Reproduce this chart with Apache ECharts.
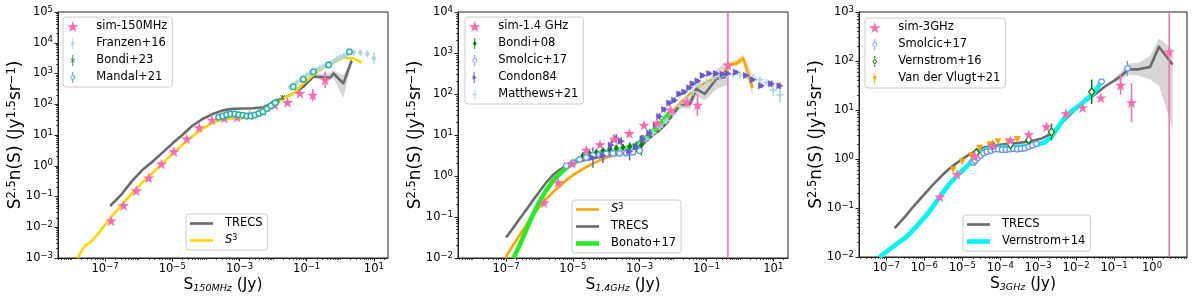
<!DOCTYPE html>
<html><head><meta charset="utf-8">
<script src="https://cdn.jsdelivr.net/npm/echarts@6/dist/echarts.min.js"></script>
<style>html,body{margin:0;padding:0;background:#fff}#c{width:1200px;height:300px}</style>
</head><body><div id="c"></div>
<script>
// All values are log10 readings from the figure (lgS = log10 flux [Jy], lgN = log10 S^2.5 n(S)).
// ---------------- Panel 1 : 150 MHz ----------------
const p1_sim_lgS = [-6.82,-6.45,-6.07,-5.70,-5.32,-4.95,-4.57,-4.20,-3.82,-3.45,-3.07,-2.70,-2.32,-1.95,-1.57,-1.20,-0.82,-0.45];
const p1_sim_lgN = [-1.79,-1.29,-0.81,-0.39,0.06,0.46,0.88,1.24,1.49,1.55,1.58,1.65,1.79,1.98,2.06,2.36,2.30,2.79];
const p1_sim_err = [0.04,0.04,0.04,0.04,0.04,0.04,0.04,0.04,0.04,0.04,0.04,0.04,0.05,0.05,0.06,0.08,0.2,0.27];
const p1_trecs_lgS = [-6.85,-6.5,-6.2,-5.9,-5.6,-5.3,-5.0,-4.7,-4.4,-4.1,-3.8,-3.5,-3.2,-2.9,-2.6,-2.3,-2.0,-1.7,-1.4,-1.1,-0.8,-0.5,-0.3,-0.2,0.09,0.34];
const p1_trecs_lgN = [-1.31,-0.92,-0.5,-0.15,0.12,0.42,0.72,1.0,1.3,1.52,1.68,1.8,1.85,1.86,1.87,1.9,2.05,2.2,2.35,2.57,2.9,2.88,2.87,3.0,2.68,3.42];
const p1_band_lgS = [-0.8,-0.5,-0.35,-0.2,0.09,0.34];
const p1_band_lo = [2.85,2.78,2.75,2.85,2.2,3.35];
const p1_band_hi = [2.95,3.0,3.0,3.1,2.95,3.5];
const p1_s3_lgS = [-7.82,-7.6,-7.42,-7.2,-7.0,-6.8,-6.5,-6.2,-5.9,-5.6,-5.3,-5.0,-4.7,-4.4,-4.1,-3.8,-3.5,-3.2,-2.9,-2.6,-2.3,-2.0,-1.7,-1.4,-1.1,-0.8,-0.5,-0.2,0.09,0.39,0.64];
const p1_s3_lgN = [-3.0,-2.6,-2.48,-2.2,-1.92,-1.65,-1.27,-0.9,-0.56,-0.25,0.07,0.38,0.68,0.96,1.2,1.4,1.52,1.54,1.55,1.6,1.76,2.02,2.18,2.35,2.68,2.95,3.18,3.35,3.52,3.49,3.35];
const p1_franzen_lgS = [-1.5,-1.4,-1.3,-1.2,-1.1,-1.0,-0.9,-0.8,-0.7,-0.6,-0.5,-0.4,-0.3,-0.2,-0.1,0.0,0.1,0.2,0.4,0.6,0.8,1.0];
const p1_franzen_lgN = [2.55,2.62,2.7,2.78,2.86,2.94,3.0,3.06,3.12,3.18,3.23,3.28,3.33,3.4,3.47,3.53,3.58,3.62,3.68,3.68,3.64,3.5];
const p1_franzen_err = [0.06,0.06,0.06,0.06,0.06,0.06,0.06,0.06,0.06,0.06,0.06,0.06,0.06,0.06,0.06,0.07,0.07,0.08,0.08,0.09,0.11,0.2];
const p1_bondi_lgS = [-3.0,-2.8,-2.6,-2.4,-2.2,-2.0,-1.85,-1.72];
const p1_bondi_lgN = [1.65,1.63,1.65,1.72,1.9,2.03,2.12,2.22];
const p1_bondi_err = [0.04,0.04,0.04,0.04,0.05,0.05,0.06,0.08];
const p1_mandal_lgS = [-3.62,-3.5,-3.38,-3.26,-3.14,-3.02,-2.9,-2.78,-2.66,-2.54,-2.42,-2.3,-2.18,-2.06,-1.94,-1.4,-1.1,-0.8,-0.35,0.27];
const p1_mandal_lgN = [1.58,1.62,1.66,1.68,1.68,1.66,1.64,1.62,1.62,1.65,1.7,1.76,1.85,1.95,2.05,2.57,2.81,3.06,3.28,3.71];
const p1_mandal_err = [0.04,0.04,0.04,0.04,0.04,0.04,0.04,0.04,0.04,0.04,0.04,0.04,0.04,0.04,0.04,0.04,0.04,0.04,0.04,0.05];

// ---------------- Panel 2 : 1.4 GHz ----------------
const p2_sim_lgS = [-5.86,-5.44,-5.02,-4.60,-4.19,-3.76,-3.31,-2.87,-2.47,-2.07,-1.59,-1.27,-0.36];
const p2_sim_lgN = [-0.65,-0.16,0.31,0.63,0.77,0.90,1.04,1.24,1.29,1.61,1.81,1.73,2.71];
const p2_sim_err = [0.04,0.04,0.04,0.04,0.04,0.04,0.04,0.05,0.05,0.06,0.12,0.27,8];
const p2_s3_lgS = [-7.03,-6.8,-6.6,-6.4,-6.2,-6.0,-5.8,-5.6,-5.4,-5.2,-5.0,-4.8,-4.6,-4.4,-4.2,-4.0,-3.7,-3.4,-3.1,-2.9,-2.7,-2.5,-2.3,-2.1,-1.9,-1.7,-1.5,-1.3,-1.1,-0.9,-0.7,-0.5,-0.34,-0.09,0.1,0.38];
const p2_s3_lgN = [-2.0,-1.7,-1.45,-1.2,-0.95,-0.75,-0.56,-0.4,-0.25,-0.1,0.02,0.12,0.22,0.3,0.38,0.45,0.52,0.57,0.65,0.8,0.98,1.15,1.33,1.5,1.68,1.85,2.0,2.12,2.25,2.33,2.4,2.47,2.7,2.75,2.87,2.15];
const p2_s3band_lgS = [-0.34,-0.09,0.1,0.38];
const p2_s3band_lo = [2.65,2.68,2.78,1.95];
const p2_s3band_hi = [2.76,2.85,2.96,2.45];
const p2_trecs_lgS = [-7.0,-6.8,-6.6,-6.4,-6.2,-6.0,-5.8,-5.6,-5.4,-5.2,-5.0,-4.7,-4.4,-4.1,-3.8,-3.5,-3.2,-3.0,-2.8,-2.6,-2.4,-2.2,-2.0,-1.8,-1.5,-1.3,-1.05,-0.7,-0.37];
const p2_trecs_lgN = [-1.5,-1.28,-1.05,-0.83,-0.6,-0.38,-0.16,0.02,0.15,0.25,0.31,0.38,0.43,0.48,0.52,0.54,0.6,0.7,0.85,1.0,1.12,1.28,1.5,1.72,1.76,2.12,2.0,2.37,2.43];
const p2_band_lgS = [-1.8,-1.5,-1.3,-1.05,-0.7,-0.37];
const p2_band_lo = [1.66,1.64,1.95,1.85,2.12,2.22];
const p2_band_hi = [1.8,1.92,2.3,2.2,2.6,2.8];
const p2_bonato_lgS = [-6.78,-6.6,-6.4,-6.2,-6.0,-5.8,-5.6,-5.4,-5.2,-5.0,-4.8,-4.5,-4.2,-3.9,-3.6,-3.3,-3.1,-2.9,-2.7,-2.5,-2.3,-2.1];
const p2_bonato_lgN = [-2.0,-1.7,-1.32,-0.95,-0.62,-0.35,-0.12,0.05,0.2,0.32,0.42,0.5,0.56,0.6,0.64,0.7,0.76,0.88,1.02,1.18,1.35,1.56];
const p2_bondi_lgS = [-4.7,-4.5,-4.3,-4.1,-3.9,-3.7,-3.5,-3.3,-3.1,-2.95];
const p2_bondi_lgN = [0.5,0.55,0.58,0.62,0.65,0.68,0.7,0.72,0.7,0.75];
const p2_bondi_err = [0.08,0.07,0.07,0.07,0.07,0.08,0.08,0.1,0.12,0.25];
const p2_smolcic_lgS = [-5.2,-5.0,-4.8,-4.6,-4.4,-4.2,-4.0,-3.8,-3.6,-3.4,-3.2,-3.0];
const p2_smolcic_lgN = [0.25,0.32,0.4,0.45,0.5,0.52,0.54,0.55,0.55,0.56,0.58,0.62];
const p2_smolcic_err = [0.04,0.04,0.04,0.04,0.04,0.04,0.04,0.04,0.04,0.05,0.05,0.06];
const p2_condon_lgS = [-4.4,-4.1,-3.85,-3.7,-3.55,-3.3,-3.1,-2.9,-2.7,-2.5,-2.4,-2.25,-2.1,-1.95,-1.8,-1.65,-1.5,-1.4,-1.25,-1.1,-0.9,-0.7,-0.5,-0.35,-0.1,0.2,0.4,0.65,0.95,1.2];
const p2_condon_lgN = [0.45,0.5,0.75,0.92,0.85,0.6,0.72,0.9,1.05,1.25,1.45,1.62,1.78,1.85,2.0,2.05,2.15,2.25,2.32,2.45,2.5,2.5,2.48,2.5,2.53,2.45,2.35,2.2,2.25,2.2];
const p2_condon_err = [0.25,0.18,0.12,0.1,0.1,0.22,0.12,0.1,0.1,0.08,0.08,0.07,0.07,0.07,0.06,0.06,0.06,0.06,0.05,0.05,0.05,0.05,0.05,0.05,0.05,0.05,0.05,0.06,0.08,0.08];
const p2_matthews_lgS = [-5.0,-4.8,-4.6,-4.4,-4.2,-4.0,-3.8,-3.6,-3.4,-3.2,-3.0,-2.8,-2.6,-2.4,-2.2,-2.0,-1.8,-1.6,-1.4,-1.2,-1.0,-0.8,-0.6,-0.4,-0.2,0.0,0.2,0.4,0.6,0.8,1.0,1.2];
const p2_matthews_lgN = [0.32,0.4,0.47,0.52,0.55,0.57,0.6,0.62,0.63,0.66,0.75,0.9,1.05,1.2,1.35,1.52,1.7,1.88,2.05,2.2,2.3,2.38,2.42,2.45,2.48,2.47,2.44,2.4,2.35,2.28,2.1,1.98];
const p2_matthews_err = [0.05,0.05,0.04,0.04,0.04,0.04,0.04,0.04,0.04,0.04,0.04,0.04,0.04,0.04,0.04,0.04,0.04,0.04,0.04,0.04,0.04,0.04,0.04,0.04,0.04,0.04,0.04,0.05,0.05,0.07,0.15,0.2];

// ---------------- Panel 3 : 3 GHz ----------------
const p3_sim_lgS = [-5.59,-5.14,-4.67,-4.20,-3.73,-3.25,-2.78,-2.27,-1.83,-1.35,-0.83,-0.54,0.45];
const p3_sim_lgN = [-0.77,-0.31,0.06,0.28,0.38,0.50,0.66,0.93,1.05,1.25,1.51,1.15,2.19];
const p3_sim_err = [0.04,0.04,0.04,0.04,0.04,0.04,0.05,0.05,0.05,0.06,0.2,0.4,5.2];
const p3_trecs_lgS = [-6.78,-6.5,-6.3,-6.0,-5.8,-5.5,-5.3,-5.0,-4.8,-4.6,-4.4,-4.1,-3.8,-3.5,-3.2,-2.9,-2.65,-2.4,-2.08,-1.8,-1.5,-1.24,-1.0,-0.84,-0.62,-0.36,-0.05,0.18,0.54];
const p3_trecs_lgN = [-1.41,-1.17,-0.98,-0.72,-0.55,-0.31,-0.17,0.0,0.1,0.18,0.24,0.28,0.31,0.33,0.36,0.42,0.52,0.72,0.97,1.15,1.32,1.48,1.6,1.68,1.83,1.83,1.88,2.29,1.93];
const p3_band_lgS = [-1.0,-0.84,-0.62,-0.36,-0.05,0.18,0.54];
const p3_band_lo = [1.55,1.6,1.72,1.7,1.62,1.5,0.62];
const p3_band_hi = [1.65,1.76,1.95,1.96,2.1,2.46,2.25];
const p3_vern14_lgS = [-7.18,-6.82,-6.47,-6.21,-5.9,-5.59,-5.33,-5.07,-4.8,-4.63,-4.36,-4.0,-3.57,-3.13,-2.85,-2.65,-2.45,-2.25,-1.9,-1.55,-1.33];
const p3_vern14_lgN = [-2.0,-1.79,-1.59,-1.38,-1.11,-0.77,-0.5,-0.29,-0.09,0.1,0.2,0.24,0.25,0.27,0.33,0.45,0.68,0.9,1.1,1.34,1.58];
const p3_smolcic_lgS = [-4.71,-4.66,-4.6,-4.52,-4.44,-4.35,-4.25,-4.15,-4.05,-3.95,-3.85,-3.75,-3.65,-3.55,-3.45,-3.35,-3.25,-3.15,-3.05,-1.33,-0.65];
const p3_smolcic_lgN = [-0.07,-0.03,0.02,0.07,0.12,0.15,0.17,0.2,0.2,0.19,0.19,0.2,0.21,0.2,0.21,0.22,0.25,0.28,0.31,1.58,1.85];
const p3_smolcic_err = [0.03,0.03,0.03,0.03,0.03,0.03,0.03,0.03,0.03,0.03,0.03,0.03,0.03,0.03,0.03,0.03,0.03,0.03,0.03,0.05,0.15];
const p3_vern16_lgS = [-4.63,-4.20,-3.73,-3.25,-2.65,-1.59];
const p3_vern16_lgN = [0.13,0.28,0.29,0.39,0.55,1.37];
const p3_vern16_err = [0.07,0.07,0.07,0.08,0.17,0.25];
const p3_vdv_lgS = [-5.24,-5.0,-4.76,-4.54,-4.27,-4.06,-3.79,-3.55];
const p3_vdv_lgN = [-0.22,-0.06,0.06,0.22,0.29,0.35,0.35,0.40];

// ---------------- Axes: tick labels (decade exponents) ----------------
const p1_xLabelExp = [-7,-5,-3,-1,1];
const p2_xLabelExp = [-7,-5,-3,-1,1];
const p3_xLabelExp = [-7,-6,-5,-4,-3,-2,-1,0];
const p1_yLabelExp = [-3,-2,-1,0,1,2,3,4,5];
const p2_yLabelExp = [-2,-1,0,1,2,3,4];
const p3_yLabelExp = [-2,-1,0,1,2,3];

// ---------------------------------------------------------------------
const F = 'DejaVu Sans';
const pw = v => Math.pow(10, v);
function expLabel(v){ const e = Math.round(Math.log10(v)); return '{b|10}{s|' + (e<0?'\u2212':'') + Math.abs(e) + '}'; }
const tickRich = { b:{fontSize:11.5, fontFamily:F, color:'#000', lineHeight:14}, s:{fontSize:8.5, fontFamily:F, color:'#000', lineHeight:6, verticalAlign:'top'} };
function minorVals(e0, e1, skipped){
  const out = [];
  for (let e=e0; e<=e1; e++){ for (let k=2;k<=9;k++) out.push(k*pw(e)); }
  (skipped||[]).forEach(e=>out.push(pw(e)));
  return out;
}
const STAR = 'path://M0,-10L2.245,-3.09L9.51,-3.09L3.633,1.18L5.878,8.09L0,3.82L-5.878,8.09L-3.633,1.18L-9.51,-3.09L-2.245,-3.09Z';
const TRI_R = 'path://M0,0L10,5L0,10Z';
const PLUS = 'path://M3.8,0H6.2V3.8H10V6.2H6.2V10H3.8V6.2H0V3.8H3.8Z';
const XMARK = 'path://M1,0L5,4L9,0L10,1L6,5L10,9L9,10L5,6L1,10L0,9L4,5L0,1Z';
const BAR = 'M4.4,0H5.6V14H4.4Z';
const IC = {
  star: STAR,
  diamond: 'path://'+BAR+'M5,3.5L7.5,7L5,10.5L2.5,7Z',
  xbar: 'path://'+BAR+'M2.6,4.2L5,6.3L7.4,4.2L8,4.8L5.7,7L8,9.2L7.4,9.8L5,7.7L2.6,9.8L2,9.2L4.3,7L2,4.8Z',
  ring: 'path://M4.4,0H5.6V4H4.4Z M4.4,10H5.6V14H4.4Z M2,7A3 3 0 1 1 8,7A3 3 0 1 1 2,7Z M3,7A2 2 0 1 0 7,7A2 2 0 1 0 3,7Z',
  odiamond: 'path://M4.4,0H5.6V3H4.4Z M4.4,11H5.6V14H4.4Z M5,3L8,7L5,11L2,7Z M5,4.7L3.3,7L5,9.3L6.7,7Z',
  tri: 'path://'+BAR+'M3,4L8.5,7L3,10Z',
  dtri: 'path://'+BAR+'M2,4.5L8,4.5L5,10Z',
  plus: 'path://M4.3,0H5.7V14H4.3Z M2,6.2H8V7.8H2Z',
  line: 'path://M0,0H23V2.6H0Z',
  thick: 'path://M0,0H23V4.6H0Z'
};

function lineS(name, gi, lx, ly, color, w){
  return {type:'line', name, xAxisIndex:gi*2, yAxisIndex:gi*2, z:2, symbol:'none', showSymbol:false, clip:true, silent:true,
    color, lineStyle:{color, width:w, join:'round'}, data: lx.map((x,i)=>[pw(x), pw(ly[i])])};
}
function markS(name, gi, lx, ly, symbol, size, fill, stroke, bw, rot){
  return {type:'scatter', name, xAxisIndex:gi*2, yAxisIndex:gi*2, z:3, symbol, symbolSize:size, symbolRotate:rot||0, silent:true, clip:true,
    color: stroke, itemStyle:{color:fill, borderColor:stroke, borderWidth:bw, opacity:1}, data: lx.map((x,i)=>[pw(x), pw(ly[i])])};
}
function errS(gi, lx, ly, e, color, w){
  return {type:'custom', xAxisIndex:gi*2, yAxisIndex:gi*2, z:3, silent:true, clip:true,
    data: lx.map((x,i)=>[pw(x), pw(ly[i]-e[i]), pw(ly[i]+e[i])]), encode:{x:0, y:[1,2]},
    renderItem(params, api){
      const a = api.coord([api.value(0), api.value(1)]);
      const b = api.coord([api.value(0), api.value(2)]);
      return {type:'line', shape:{x1:a[0], y1:a[1], x2:b[0], y2:b[1]}, style:{stroke:color, lineWidth:w}};
    }};
}
function bandS(gi, lx, lo, hi, color){
  const pts = lx.map((x,i)=>[pw(x), pw(lo[i]), pw(hi[i])]);
  return {type:'custom', xAxisIndex:gi*2, yAxisIndex:gi*2, z:1, silent:true, clip:true, data: pts, encode:{x:0, y:[1,2]},
    renderItem(params, api){
      if (params.dataIndex !== 0) return null;
      const up = pts.map(p=>api.coord([p[0], p[2]]));
      const dn = pts.map(p=>api.coord([p[0], p[1]])).reverse();
      return {type:'polygon', shape:{points: up.concat(dn)}, style:{fill:color}};
    }};
}

const GR = [
  {left:58, top:12, width:330, height:246},
  {left:458, top:12, width:330, height:246},
  {left:859, top:12, width:328, height:245}
];
const XR = [[-8.4,1.42],[-8.44,1.44],[-7.72,0.92]];
const YR = [[-3,5],[-2,4],[-2,3]];
const XLAB = [p1_xLabelExp, p2_xLabelExp, p3_xLabelExp];
const YLAB = [p1_yLabelExp, p2_yLabelExp, p3_yLabelExp];
const XSKIP = [[-8,-6,-4,-2,0],[-8,-6,-4,-2,0],[]];
const XNAME = ['150MHz','1.4GHz','3GHz'];

const grid=[], xAxis=[], yAxis=[];
for (let g=0; g<3; g++){
  grid.push(Object.assign({show:true, borderColor:'#222', borderWidth:1, containLabel:false, outerBoundsMode:'none'}, GR[g]));
  const xmin = pw(XR[g][0]), xmax = pw(XR[g][1]);
  const ymin = pw(YR[g][0]), ymax = pw(YR[g][1]);
  const xl = XLAB[g].map(pw), yl = YLAB[g].map(pw);
  xAxis.push({type:'log', logBase:10, gridIndex:g, min:xmin, max:xmax, position:'bottom',
    axisLine:{show:true, lineStyle:{color:'#222', width:1}},
    axisTick:{show:true, inside:false, length:3.5, lineStyle:{color:'#222', width:1}, customValues:xl},
    axisLabel:{show:true, margin:4, customValues:xl, formatter:expLabel, rich:tickRich},
    splitLine:{show:false}, minorTick:{show:false},
    name:'{m|S}{d|'+XNAME[g]+'}{m| (Jy)}', nameLocation:'middle', nameGap:17, nameMoveOverlap:false,
    nameTextStyle:{rich:{m:{fontSize:15.5, fontFamily:F, color:'#000', lineHeight:19}, d:{fontSize:9.5, fontStyle:'italic', fontFamily:F, color:'#000', lineHeight:10, verticalAlign:'bottom'}}}});
  xAxis.push({type:'log', logBase:10, gridIndex:g, min:xmin, max:xmax, position:'bottom',
    axisLine:{show:false}, axisLabel:{show:false}, splitLine:{show:false},
    axisTick:{show:true, inside:false, length:2, lineStyle:{color:'#222', width:0.8}, customValues:minorVals(-9,1,XSKIP[g]).filter(v=>v>xmin && v<xmax)}});
  yAxis.push({type:'log', logBase:10, gridIndex:g, min:ymin, max:ymax, position:'left',
    axisLine:{show:true, lineStyle:{color:'#222', width:1}},
    axisTick:{show:true, inside:false, length:3.5, lineStyle:{color:'#222', width:1}, customValues:yl},
    axisLabel:{show:true, margin:5, customValues:yl, formatter:expLabel, rich:tickRich},
    splitLine:{show:false}, minorTick:{show:false},
    name:'{m|S}{p|2.5}{m|n(S) (Jy}{p|1.5}{m|sr}{p|\u22121}{m|)}', nameLocation:'middle', nameGap:32, nameRotate:90, nameMoveOverlap:false,
    nameTextStyle:{rich:{m:{fontSize:17, fontFamily:F, color:'#000', lineHeight:20}, p:{fontSize:11.5, fontFamily:F, color:'#000', lineHeight:10, verticalAlign:'top'}}}});
  yAxis.push({type:'log', logBase:10, gridIndex:g, min:ymin, max:ymax, position:'left',
    axisLine:{show:false}, axisLabel:{show:false}, splitLine:{show:false},
    axisTick:{show:true, inside:false, length:2, lineStyle:{color:'#222', width:0.8}, customValues:minorVals(-4,5,[]).filter(v=>v>ymin && v<ymax)}});
}

const PINK='#ff69b4', GRAY='#6b6b6b', BAND='#d6d6d6';
const series = [
  // panel 1
  bandS(0, p1_band_lgS, p1_band_lo, p1_band_hi, BAND),
  lineS('TRECS#1', 0, p1_trecs_lgS, p1_trecs_lgN, GRAY, 2.6),
  lineS('S3#1', 0, p1_s3_lgS, p1_s3_lgN, '#ffd700', 2.6),
  errS(0, p1_franzen_lgS, p1_franzen_lgN, p1_franzen_err, '#add8e6', 1.5),
  markS('Franzen+16', 0, p1_franzen_lgS, p1_franzen_lgN, 'diamond', [5,7], '#add8e6', '#add8e6', 0),
  errS(0, p1_bondi_lgS, p1_bondi_lgN, p1_bondi_err, '#2e8b57', 1.2),
  markS('Bondi+23', 0, p1_bondi_lgS, p1_bondi_lgN, XMARK, 5, '#2e8b57', '#2e8b57', 0),
  errS(0, p1_sim_lgS, p1_sim_lgN, p1_sim_err, PINK, 1.5),
  markS('sim-150MHz', 0, p1_sim_lgS, p1_sim_lgN, STAR, 11, PINK, PINK, 0),
  errS(0, p1_mandal_lgS, p1_mandal_lgN, p1_mandal_err, '#20b2aa', 1.2),
  markS('Mandal+21', 0, p1_mandal_lgS, p1_mandal_lgN, 'circle', 5.5, '#ffffff', '#20b2aa', 1.5),
  // panel 2
  bandS(1, p2_band_lgS, p2_band_lo, p2_band_hi, BAND),
  bandS(1, p2_s3band_lgS, p2_s3band_lo, p2_s3band_hi, '#fbd9a3'),
  lineS('S3#2', 1, p2_s3_lgS, p2_s3_lgN, '#ffa500', 2.6),
  lineS('TRECS#2', 1, p2_trecs_lgS, p2_trecs_lgN, GRAY, 2.6),
  lineS('Bonato+17', 1, p2_bonato_lgS, p2_bonato_lgN, '#22ee22', 4.6),
  errS(1, p2_matthews_lgS, p2_matthews_lgN, p2_matthews_err, '#add8e6', 1.5),
  markS('Matthews+21', 1, p2_matthews_lgS, p2_matthews_lgN, PLUS, 7, '#add8e6', '#add8e6', 0),
  errS(1, p2_bondi_lgS, p2_bondi_lgN, p2_bondi_err, '#008000', 1.2),
  markS('Bondi+08', 1, p2_bondi_lgS, p2_bondi_lgN, 'diamond', [5,7], '#008000', '#008000', 0),
  errS(1, p2_smolcic_lgS, p2_smolcic_lgN, p2_smolcic_err, '#6495ed', 1.2),
  markS('Smolcic+17#2', 1, p2_smolcic_lgS, p2_smolcic_lgN, 'circle', 5.5, '#ffffff', '#6495ed', 1.2),
  errS(1, p2_condon_lgS, p2_condon_lgN, p2_condon_err, '#6a5acd', 1.5),
  markS('Condon84', 1, p2_condon_lgS, p2_condon_lgN, TRI_R, 7, '#6a5acd', '#6a5acd', 0),
  errS(1, p2_sim_lgS, p2_sim_lgN, p2_sim_err, PINK, 1.5),
  markS('sim-1.4 GHz', 1, p2_sim_lgS, p2_sim_lgN, STAR, 11, PINK, PINK, 0),
  // panel 3
  bandS(2, p3_band_lgS, p3_band_lo, p3_band_hi, BAND),
  lineS('TRECS#3', 2, p3_trecs_lgS, p3_trecs_lgN, GRAY, 2.6),
  lineS('Vernstrom+14', 2, p3_vern14_lgS, p3_vern14_lgN, '#00f5f5', 4.6),
  errS(2, p3_smolcic_lgS, p3_smolcic_lgN, p3_smolcic_err, '#6495ed', 1.2),
  markS('Smolcic+17#3', 2, p3_smolcic_lgS, p3_smolcic_lgN, 'circle', 5.5, '#ffffff', '#6495ed', 1.2),
  errS(2, p3_vern16_lgS, p3_vern16_lgN, p3_vern16_err, '#008000', 1.5),
  markS('Vernstrom+16', 2, p3_vern16_lgS, p3_vern16_lgN, 'diamond', [6,8], '#ffffff', '#008000', 1.3),
  markS('Van der Vlugt+21', 2, p3_vdv_lgS, p3_vdv_lgN, 'triangle', 7, '#ffa500', '#ffa500', 0, 180),
  errS(2, p3_sim_lgS, p3_sim_lgN, p3_sim_err, PINK, 1.5),
  markS('sim-3GHz', 2, p3_sim_lgS, p3_sim_lgN, STAR, 11, PINK, PINK, 0)
];

function legendBox(left, top, items){
  return {orient:'vertical', left, top, z:10, selectedMode:false, padding:[3,5,3,4], itemGap:4, itemWidth:23, itemHeight:11,
    backgroundColor:'#ffffff', borderColor:'#cccccc', borderWidth:1, borderRadius:3,
    formatter: n => n.indexOf('S3')===0 ? '{it|S}{sp|3}' : n.split('#')[0],
    textStyle:{fontSize:11.5, fontFamily:F, color:'#000', lineHeight:13, padding:[0,0,0,7],
      rich:{it:{fontSize:11.5, fontStyle:'italic', fontFamily:F, color:'#000', lineHeight:13}, sp:{fontSize:8, fontFamily:F, color:'#000', lineHeight:6, verticalAlign:'top'}}},
    data: items.map(([name, icon, color]) => ({name, icon, itemStyle:{color, borderWidth:0, opacity:1}}))};
}
const legend = [
  legendBox(63, 17, [['sim-150MHz',IC.star,PINK],['Franzen+16',IC.diamond,'#add8e6'],['Bondi+23',IC.xbar,'#2e8b57'],['Mandal+21',IC.ring,'#20b2aa']]),
  legendBox(186, 214, [['TRECS#1',IC.line,GRAY],['S3#1',IC.line,'#ffd700']]),
  legendBox(465, 17, [['sim-1.4 GHz',IC.star,PINK],['Bondi+08',IC.diamond,'#008000'],['Smolcic+17#2',IC.ring,'#6495ed'],['Condon84',IC.tri,'#6a5acd'],['Matthews+21',IC.plus,'#add8e6']]),
  legendBox(572, 200, [['S3#2',IC.line,'#ffa500'],['TRECS#2',IC.line,GRAY],['Bonato+17',IC.thick,'#22ee22']]),
  legendBox(865, 18, [['sim-3GHz',IC.star,PINK],['Smolcic+17#3',IC.ring,'#6495ed'],['Vernstrom+16',IC.odiamond,'#008000'],['Van der Vlugt+21',IC.dtri,'#ffa500']]),
  legendBox(963, 215, [['TRECS#3',IC.line,GRAY],['Vernstrom+14',IC.thick,'#00f5f5']])
];

const chart = echarts.init(document.getElementById('c'), null, {renderer:'canvas'});
chart.setOption({animation:false, backgroundColor:'#ffffff', grid, xAxis, yAxis, legend, series});
</script></body></html>
